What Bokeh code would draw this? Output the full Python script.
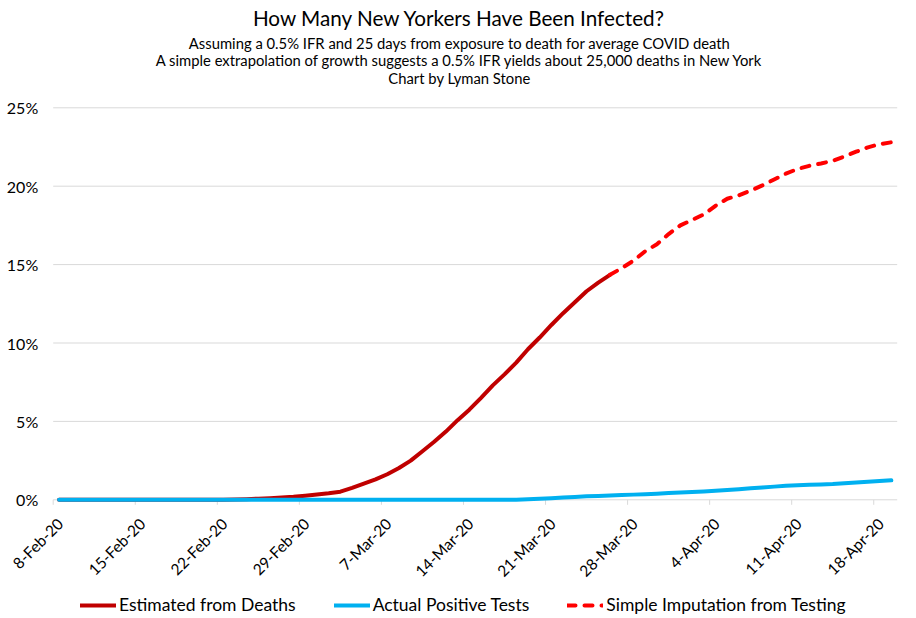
import math
import pandas as pd
from bokeh.plotting import figure
from bokeh.models import (ColumnDataSource, Legend, LegendItem, Label, Range1d)
from bokeh.core.properties import value
from bokeh.embed import file_html
from bokeh.resources import INLINE

# ---------------- data ----------------
first_day = "2020-02-08"
last_axis_day = "2020-04-20"
n_days = 72  # 8-Feb-20 .. 19-Apr-20

# Estimated share infected (from deaths), % of population, 8-Feb .. 26-Mar
est_from_deaths = [0, 0, 0, 0, 0, 0, 0, 0, 0, 0, 0, 0, 0, 0, 0.01, 0.02,
                   0.04, 0.07, 0.10, 0.14, 0.19, 0.26, 0.34, 0.42, 0.52, 0.76,
                   1.03, 1.30, 1.63, 2.03, 2.50, 3.10, 3.70, 4.35, 5.08, 5.75,
                   6.50, 7.30, 8.00, 8.75, 9.60, 10.35, 11.15, 11.90, 12.60,
                   13.30, 13.85, 14.35]

# Actual positive tests, % of population, 8-Feb .. 19-Apr
actual_tests = [0] * 39 + [0.01, 0.03, 0.06, 0.10, 0.14, 0.18, 0.22, 0.25,
                           0.28, 0.30, 0.33, 0.36, 0.39, 0.43, 0.46, 0.50,
                           0.53, 0.57, 0.62, 0.68, 0.74, 0.79, 0.84, 0.90,
                           0.93, 0.96, 0.98, 1.00, 1.05, 1.10, 1.15, 1.20, 1.24]

# Simple imputation from testing, % of population, 26-Mar .. 19-Apr
imputation_start = "2020-03-26"
imputation = [14.35, 14.77, 15.25, 15.85, 16.30, 16.95, 17.50, 17.85, 18.20,
              18.75, 19.20, 19.42, 19.72, 20.05, 20.43, 20.80, 21.10, 21.30,
              21.45, 21.62, 21.90, 22.20, 22.48, 22.68, 22.80]

tick_dates = ["2020-02-08", "2020-02-15", "2020-02-22", "2020-02-29",
              "2020-03-07", "2020-03-14", "2020-03-21", "2020-03-28",
              "2020-04-04", "2020-04-11", "2020-04-18"]
y_ticks = [0, 5, 10, 15, 20, 25]

series_names = ["Estimated from Deaths", "Actual Positive Tests",
                "Simple Imputation from Testing"]
colors = ["#C00000", "#00B0F0", "#FF0000"]

title_text = "How Many New Yorkers Have Been Infected?"
subtitles = ["Assuming a 0.5% IFR and 25 days from exposure to death for average COVID death",
             "A simple extrapolation of growth suggests a 0.5% IFR yields about 25,000 deaths in New York",
             "Chart by Lyman Stone"]

# ---------------- layout constants (pixels) ----------------
FONT = "Lato"
W, H = 912, 616
PLOT_LEFT, PLOT_RIGHT = 52.7, 896.7   # plot-area edges, from the left
Y_TOP_PX, Y_ZERO_PX = 107.3, 499.3    # 25% and 0% lines, from the top
GRID_COLOR = "#D9D9D9"

d0, d1 = pd.Timestamp(first_day), pd.Timestamp(last_axis_day)
px_per_day = (PLOT_RIGHT - PLOT_LEFT) / ((d1 - d0) / pd.Timedelta(days=1))
x_start = d0 - pd.Timedelta(days=PLOT_LEFT / px_per_day)
x_end = d1 + pd.Timedelta(days=(W - PLOT_RIGHT) / px_per_day)
px_per_unit = (Y_ZERO_PX - Y_TOP_PX) / (y_ticks[-1] - y_ticks[0])
y_start = y_ticks[0] - (H - Y_ZERO_PX) / px_per_unit
y_end = y_ticks[-1] + Y_TOP_PX / px_per_unit

# ---------------- build ----------------
half_day = pd.Timedelta(hours=12)  # points sit between tick marks (category centre)
all_days = pd.date_range(first_day, periods=n_days, freq="D")

src_est = ColumnDataSource(dict(x=all_days[:len(est_from_deaths)] + half_day,
                                y=est_from_deaths))
src_act = ColumnDataSource(dict(x=all_days + half_day, y=actual_tests))
src_imp = ColumnDataSource(dict(x=pd.date_range(imputation_start, periods=len(imputation), freq="D") + half_day,
                                y=imputation))

tick_ts = [pd.Timestamp(d) for d in tick_dates]
src_xticks = ColumnDataSource(dict(
    x=tick_ts, y=[y_ticks[0]] * len(tick_ts),
    label=[f"{t.day}-{t.strftime('%b-%y')}" for t in tick_ts]))
src_yticks = ColumnDataSource(dict(
    x0=[d0] * len(y_ticks), x1=[d1] * len(y_ticks), y=y_ticks,
    label=[f"{v}%" for v in y_ticks]))

p = figure(width=W, height=H, x_axis_type="datetime",
           x_axis_location=None, y_axis_location=None,
           x_range=Range1d(x_start, x_end), y_range=Range1d(y_start, y_end),
           output_backend="svg", toolbar_location=None,
           min_border_left=0, min_border_right=0, min_border_top=0,
           min_border_bottom=0)
p.outline_line_color = None
p.background_fill_color = "white"
p.border_fill_color = "white"
p.xgrid.visible = False
p.ygrid.visible = False

# horizontal gridlines (0% line doubles as the category axis)
p.segment(x0="x0", y0="y", x1="x1", y1="y", source=src_yticks,
          line_color=GRID_COLOR, line_width=1)
p.text(x="x0", y="y", text="label", source=src_yticks, x_offset=-15,
       text_align="right", text_baseline="middle",
       text_font=value(FONT), text_font_size="16px", text_color="black")

# x axis ticks and rotated date labels
p.ray(x="x", y="y", source=src_xticks, length=5, length_units="screen",
      angle=-math.pi / 2, line_color=GRID_COLOR, line_width=1)
p.text(x="x", y="y", text="label", source=src_xticks, angle=math.pi / 4,
       x_offset=7, y_offset=21, text_align="right", text_baseline="middle",
       text_font=value(FONT), text_font_size="15.5px", text_color="black")

# series
r_est = p.line("x", "y", source=src_est, color=colors[0], line_width=4,
               line_cap="round", line_join="round")
r_act = p.line("x", "y", source=src_act, color=colors[1], line_width=4,
               line_cap="round", line_join="round")
r_imp = p.line("x", "y", source=src_imp, color=colors[2], line_width=4,
               line_dash="8 9", line_cap="round", line_join="round")

# titles
cx = 459
for txt, top_px, fs in [(title_text, 17, "20.7px"), (subtitles[0], 42, "14.8px"),
                        (subtitles[1], 59.5, "14.8px"), (subtitles[2], 77, "14.8px")]:
    p.add_layout(Label(x=cx, y=H - top_px, x_units="screen", y_units="screen",
                       text=txt, text_align="center", text_baseline="middle",
                       text_font=FONT, text_font_size=fs, text_color="black"))

legend = Legend(items=[LegendItem(label=series_names[0], renderers=[r_est]),
                       LegendItem(label=series_names[1], renderers=[r_act]),
                       LegendItem(label=series_names[2], renderers=[r_imp])],
                orientation="horizontal", location=(80, 1),
                glyph_width=36, glyph_height=18, label_height=18,
                label_standoff=3, spacing=38,
                padding=0, margin=0, border_line_color=None,
                background_fill_alpha=0, label_text_font=FONT,
                label_text_font_size="17.5px", label_text_color="black")
p.add_layout(legend)

open("out.html", "w").write(file_html(p, INLINE))
